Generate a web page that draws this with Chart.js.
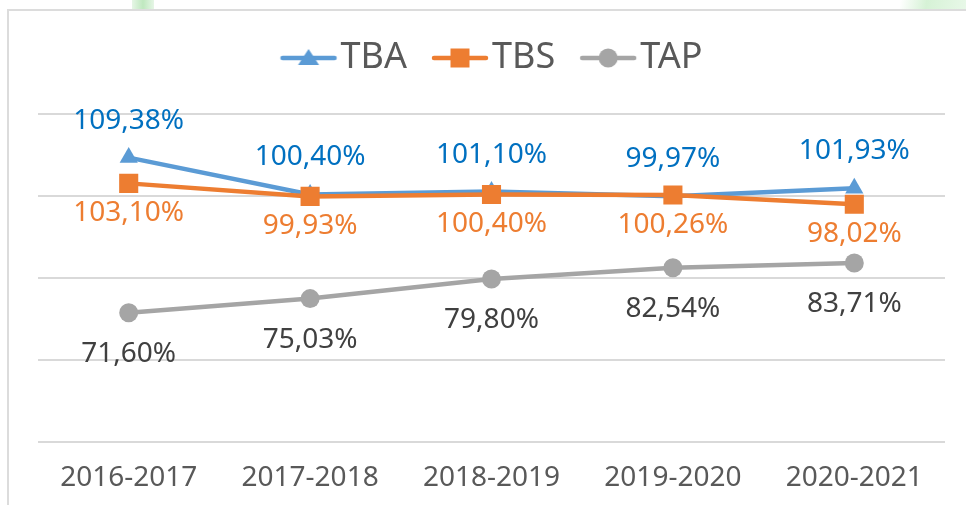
<!DOCTYPE html>
<html>
<head>
<meta charset="utf-8">
<script src="https://cdn.jsdelivr.net/npm/chart.js@4"></script>
<style>
  html, body { margin: 0; padding: 0; background: #fff; }
  #wrap { position: relative; width: 966px; height: 505px; overflow: hidden; }
  #frame { position: absolute; left: 7px; top: 9px; right: -5px; bottom: -5px;
           border-left: 2px solid #dcdcdc; border-top: 2px solid #dcdcdc; }
  .leaf { position: absolute; top: 0; height: 9px; }
  #leaf1 { left: 132px; width: 22px; background: linear-gradient(90deg, #e6f6e6, #bfe8bf, #e6f6e6); }
  #leaf2 { left: 900px; width: 66px; background: linear-gradient(100deg, #ffffff 0%, #d6f2d6 40%, #e8f8e8 100%); }
  canvas { position: absolute; left: 0; top: 0; }
</style>
</head>
<body>
<div id="wrap">
  <div class="leaf" id="leaf1"></div>
  <div class="leaf" id="leaf2"></div>
  <div id="frame"></div>
  <canvas id="lineChart" width="966" height="505"></canvas>
</div>
<script>
// chart data
const categories = ["2016-2017", "2017-2018", "2018-2019", "2019-2020", "2020-2021"];
const tbaValues = [109.38, 100.40, 101.10, 99.97, 101.93];
const tbsValues = [103.10, 99.93, 100.40, 100.26, 98.02];
const tapValues = [71.60, 75.03, 79.80, 82.54, 83.71];
const seriesNames = ["TBA", "TBS", "TAP"];

const FONT = "'Noto Sans', 'Open Sans', sans-serif";

function formatPercent(v) {
  return v.toFixed(2).replace(".", ",") + "%";
}

// small picture of line + marker for the legend
// (canvas is wider than the drawing so that it sits left inside the legend box)
function legendIcon(color, marker) {
  const c = document.createElement("canvas");
  c.width = 100;
  c.height = 24;
  const g = c.getContext("2d");
  const x0 = 29, mid = x0 + 28;
  g.strokeStyle = color;
  g.fillStyle = color;
  g.lineWidth = 4.5;
  g.lineCap = "round";
  g.beginPath();
  g.moveTo(x0 + 2, 12);
  g.lineTo(x0 + 54, 12);
  g.stroke();
  g.beginPath();
  if (marker === "triangle") {
    g.moveTo(mid, 3);
    g.lineTo(mid + 10.5, 19);
    g.lineTo(mid - 10.5, 19);
    g.closePath();
  } else if (marker === "rect") {
    g.rect(mid - 9.5, 2.5, 19, 19);
  } else {
    g.arc(mid, 12, 9.5, 0, Math.PI * 2);
  }
  g.fill();
  return c;
}

// draws the value labels next to each point
const valueLabels = {
  id: "valueLabels",
  afterDatasetsDraw(chart) {
    const ctx = chart.ctx;
    ctx.save();
    ctx.font = "28px " + FONT;
    ctx.textAlign = "center";
    ctx.textBaseline = "middle";
    chart.data.datasets.forEach((ds, i) => {
      const meta = chart.getDatasetMeta(i);
      ctx.fillStyle = ds.labelColor;
      meta.data.forEach((pt, j) => {
        ctx.fillText(formatPercent(ds.data[j]), pt.x, pt.y + ds.labelOffset);
      });
    });
    ctx.restore();
  },
};

const ctx = document.getElementById("lineChart").getContext("2d");
new Chart(ctx, {
  type: "line",
  data: {
    labels: categories,
    datasets: [
      {
        label: seriesNames[0],
        data: tbaValues,
        borderColor: "#5B9BD5",
        backgroundColor: "#5B9BD5",
        borderWidth: 4.5,
        pointStyle: "triangle",
        pointRadius: 10.5,
        pointBorderWidth: 0,
        labelColor: "#0070C0",
        labelOffset: -37,
        legendIcon: legendIcon("#5B9BD5", "triangle"),
        order: 1,
      },
      {
        label: seriesNames[1],
        data: tbsValues,
        borderColor: "#ED7D31",
        backgroundColor: "#ED7D31",
        borderWidth: 4.5,
        pointStyle: "rect",
        pointRadius: 13.5,
        pointBorderWidth: 0,
        labelColor: "#ED7D31",
        labelOffset: 30,
        legendIcon: legendIcon("#ED7D31", "rect"),
        order: 0,
      },
      {
        label: seriesNames[2],
        data: tapValues,
        borderColor: "#A5A5A5",
        backgroundColor: "#A5A5A5",
        borderWidth: 4.5,
        pointStyle: "circle",
        pointRadius: 9.5,
        pointBorderWidth: 0,
        labelColor: "#404040",
        labelOffset: 41,
        legendIcon: legendIcon("#A5A5A5", "circle"),
        order: 2,
      },
    ],
  },
  options: {
    responsive: false,
    animation: false,
    layout: {
      padding: { top: 15, left: 38, right: 21, bottom: -9 },
    },
    scales: {
      x: {
        offset: true,
        grid: { display: false, drawTicks: false },
        border: { display: false },
        ticks: {
          color: "#595959",
          font: { family: FONT, size: 28, lineHeight: 1.2 },
          padding: 19,
          maxRotation: 0,
        },
      },
      y: {
        min: 40,
        max: 120,
        grid: { color: "#d9d9d9", lineWidth: 2, drawTicks: false },
        border: { display: false },
        ticks: { display: false, stepSize: 20 },
      },
    },
    plugins: {
      tooltip: { enabled: false },
      // empty title used as a gap between legend and plot
      title: {
        display: true,
        text: "",
        weight: 500,
        font: { size: 1, lineHeight: 1 },
        padding: { top: 0, bottom: 27 },
      },
      legend: {
        display: true,
        position: "top",
        fullSize: false,
        labels: {
          color: "#595959",
          font: { family: FONT, size: 36 },
          usePointStyle: true,
          pointStyleWidth: 42,
          padding: 25,
          generateLabels(chart) {
            return chart.data.datasets.map((ds, i) => ({
              text: ds.label,
              pointStyle: ds.legendIcon,
              fillStyle: ds.borderColor,
              strokeStyle: ds.borderColor,
              fontColor: "#595959",
              lineWidth: 0,
              hidden: false,
              datasetIndex: i,
            }));
          },
        },
      },
    },
  },
  plugins: [valueLabels],
});
</script>
</body>
</html>
